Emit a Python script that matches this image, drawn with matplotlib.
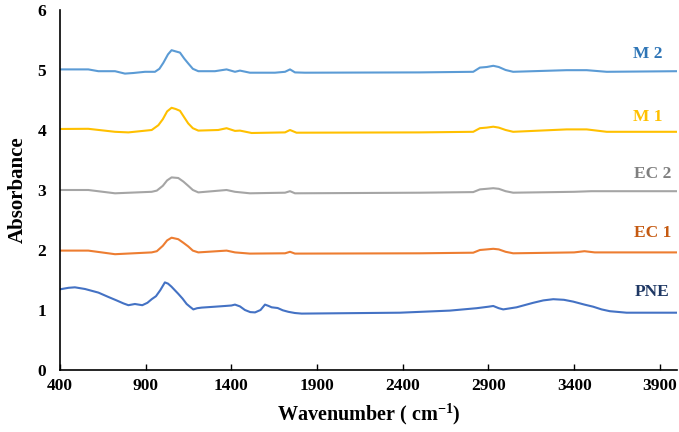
import numpy as np
import matplotlib
matplotlib.use("Agg")
import matplotlib.pyplot as plt

# =============================
# Data
# =============================
wn_pne = [400, 450, 487, 546, 624, 680, 730, 770, 799, 837, 880, 910, 935,
          960, 985, 1012, 1030, 1050, 1070, 1090, 1115, 1139, 1160, 1178,
          1200, 1227, 1304, 1363, 1400, 1421, 1450, 1479, 1510, 1538, 1570,
          1596, 1615, 1635, 1670, 1700, 1732, 1770, 1810, 2383, 2675, 2831,
          2900, 2928, 2960, 2986, 3064, 3161, 3220, 3278, 3340, 3394, 3460,
          3511, 3560, 3608, 3706, 4000]
abs_pne = [1.345, 1.37, 1.378, 1.35, 1.29, 1.22, 1.16, 1.11, 1.08, 1.10, 1.08,
           1.12, 1.18, 1.23, 1.33, 1.46, 1.44, 1.39, 1.33, 1.27, 1.19, 1.10,
           1.05, 1.01, 1.03, 1.04, 1.055, 1.067, 1.075, 1.09, 1.06, 1.0,
           0.965, 0.96, 1.0, 1.09, 1.07, 1.045, 1.033, 0.995, 0.97, 0.95,
           0.94, 0.955, 0.99, 1.03, 1.055, 1.067, 1.03, 1.01, 1.045, 1.12,
           1.16, 1.18, 1.17, 1.14, 1.09, 1.055, 1.01, 0.98, 0.955, 0.955]

wn_m2 = [400, 565, 624, 721, 779, 828, 896, 954, 980, 1003, 1030, 1051, 1075,
         1100, 1125, 1148, 1175, 1207, 1304, 1372, 1421, 1450, 1508, 1654,
         1713, 1742, 1771, 1829, 2500, 2811, 2850, 2890, 2928, 2960, 3000,
         3044, 3356, 3473, 3590, 4000]
abs_m2 = [5.01, 5.01, 4.98, 4.98, 4.94, 4.95, 4.97, 4.97, 5.02, 5.12, 5.26,
          5.33, 5.31, 5.29, 5.19, 5.11, 5.02, 4.98, 4.98, 5.01, 4.97, 4.99,
          4.955, 4.955, 4.97, 5.01, 4.96, 4.955, 4.96, 4.97, 5.04, 5.05, 5.07,
          5.05, 5.0, 4.97, 4.997, 4.997, 4.97, 4.98]

wn_m1 = [400, 565, 721, 799, 935, 974, 1000, 1025, 1051, 1075, 1100, 1125,
         1148, 1175, 1207, 1323, 1372, 1421, 1450, 1518, 1713, 1742, 1780,
         2500, 2811, 2850, 2890, 2928, 2960, 3000, 3044, 3356, 3473, 3590,
         4000]
abs_m1 = [4.017, 4.02, 3.97, 3.96, 4.0, 4.08, 4.18, 4.31, 4.37, 4.35, 4.32,
          4.21, 4.11, 4.03, 3.99, 4.0, 4.03, 3.985, 3.99, 3.95, 3.96, 4.0,
          3.955, 3.96, 3.97, 4.03, 4.04, 4.055, 4.04, 4.0, 3.97, 4.01, 4.01,
          3.97, 3.97]

wn_ec2 = [400, 565, 721, 935, 965, 1000, 1025, 1051, 1090, 1120, 1148, 1175,
          1207, 1372, 1421, 1508, 1713, 1742, 1771, 2500, 2811, 2850, 2890,
          2928, 2960, 3000, 3044, 3400, 3500, 4000]
abs_ec2 = [3.0, 3.0, 2.945, 2.97, 2.99, 3.07, 3.16, 3.21, 3.2, 3.14, 3.07,
           3.0, 2.96, 3.0, 2.97, 2.945, 2.955, 2.98, 2.945, 2.955, 2.965,
           3.01, 3.02, 3.03, 3.02, 2.98, 2.955, 2.97, 2.98, 2.98]

wn_ec1 = [400, 565, 721, 935, 965, 1000, 1025, 1051, 1090, 1120, 1148, 1175,
          1207, 1372, 1421, 1508, 1713, 1742, 1771, 2500, 2811, 2850, 2890,
          2928, 2960, 3000, 3044, 3400, 3460, 3520, 4000]
abs_ec1 = [1.99, 1.99, 1.93, 1.96, 1.98, 2.07, 2.16, 2.205, 2.18, 2.12, 2.06,
           1.99, 1.96, 1.99, 1.96, 1.94, 1.945, 1.97, 1.94, 1.945, 1.955,
           2.0, 2.01, 2.02, 2.01, 1.97, 1.945, 1.96, 1.98, 1.96, 1.96]

series = [
    ("M 2", wn_m2, abs_m2, "#5B9BD5", "#2E75B6", 3918, 5.27),
    ("M 1", wn_m1, abs_m1, "#FFC000", "#FFC000", 3918, 4.22),
    ("EC 2", wn_ec2, abs_ec2, "#A5A5A5", "#7F7F7F", 3970, 3.27),
    ("EC 1", wn_ec1, abs_ec1, "#ED7D31", "#C55A11", 3970, 2.28),
    ("PNE", wn_pne, abs_pne, "#4472C4", "#1F3864", 3958, 1.305),
]

x_ticks = [400, 900, 1400, 1900, 2400, 2900, 3400, 3900]
y_ticks = [0, 1, 2, 3, 4, 5, 6]

# =============================
# Plot
# =============================
plt.rcParams['font.family'] = ['Liberation Serif', 'DejaVu Serif']
plt.rcParams['font.weight'] = 'bold'
plt.rcParams['mathtext.fontset'] = 'custom'
plt.rcParams['mathtext.rm'] = 'Liberation Serif:bold'
plt.rcParams['mathtext.bf'] = 'Liberation Serif:bold'

fig = plt.figure(figsize=(6.79, 4.32), dpi=100)
ax = fig.add_axes([60 / 679, 62 / 432, 617 / 679, 360 / 432])

for name, wn, ab, line_col, text_col, lx, ly in series:
    ax.plot(wn, ab, color=line_col, linewidth=1.5)
    ax.text(lx, ly, name, color=text_col, fontsize=12.5, fontweight='bold',
            ha='right', va='center')

ax.set_xlim(400, 4000)
ax.set_ylim(0, 6)
ax.set_xticks(x_ticks)
ax.set_yticks(y_ticks)
ax.tick_params(axis='x', direction='in', length=4, width=1, labelsize=12.5,
               pad=6)
ax.tick_params(axis='y', length=0, labelsize=12.5, pad=10)
for lab in ax.get_xticklabels() + ax.get_yticklabels():
    lab.set_fontweight('bold')

ax.spines['top'].set_visible(False)
ax.spines['right'].set_visible(False)
ax.spines['left'].set_linewidth(1.2)
ax.spines['bottom'].set_linewidth(1.2)

ax.set_xlabel("Wavenumber ( cm$^{\\mathbf{-1}}$)", fontsize=14.5,
              fontweight='bold', labelpad=5)
ax.set_ylabel("Absorbance", fontsize=15, fontweight='bold', labelpad=7)

fig.savefig("out.png", dpi=100)
